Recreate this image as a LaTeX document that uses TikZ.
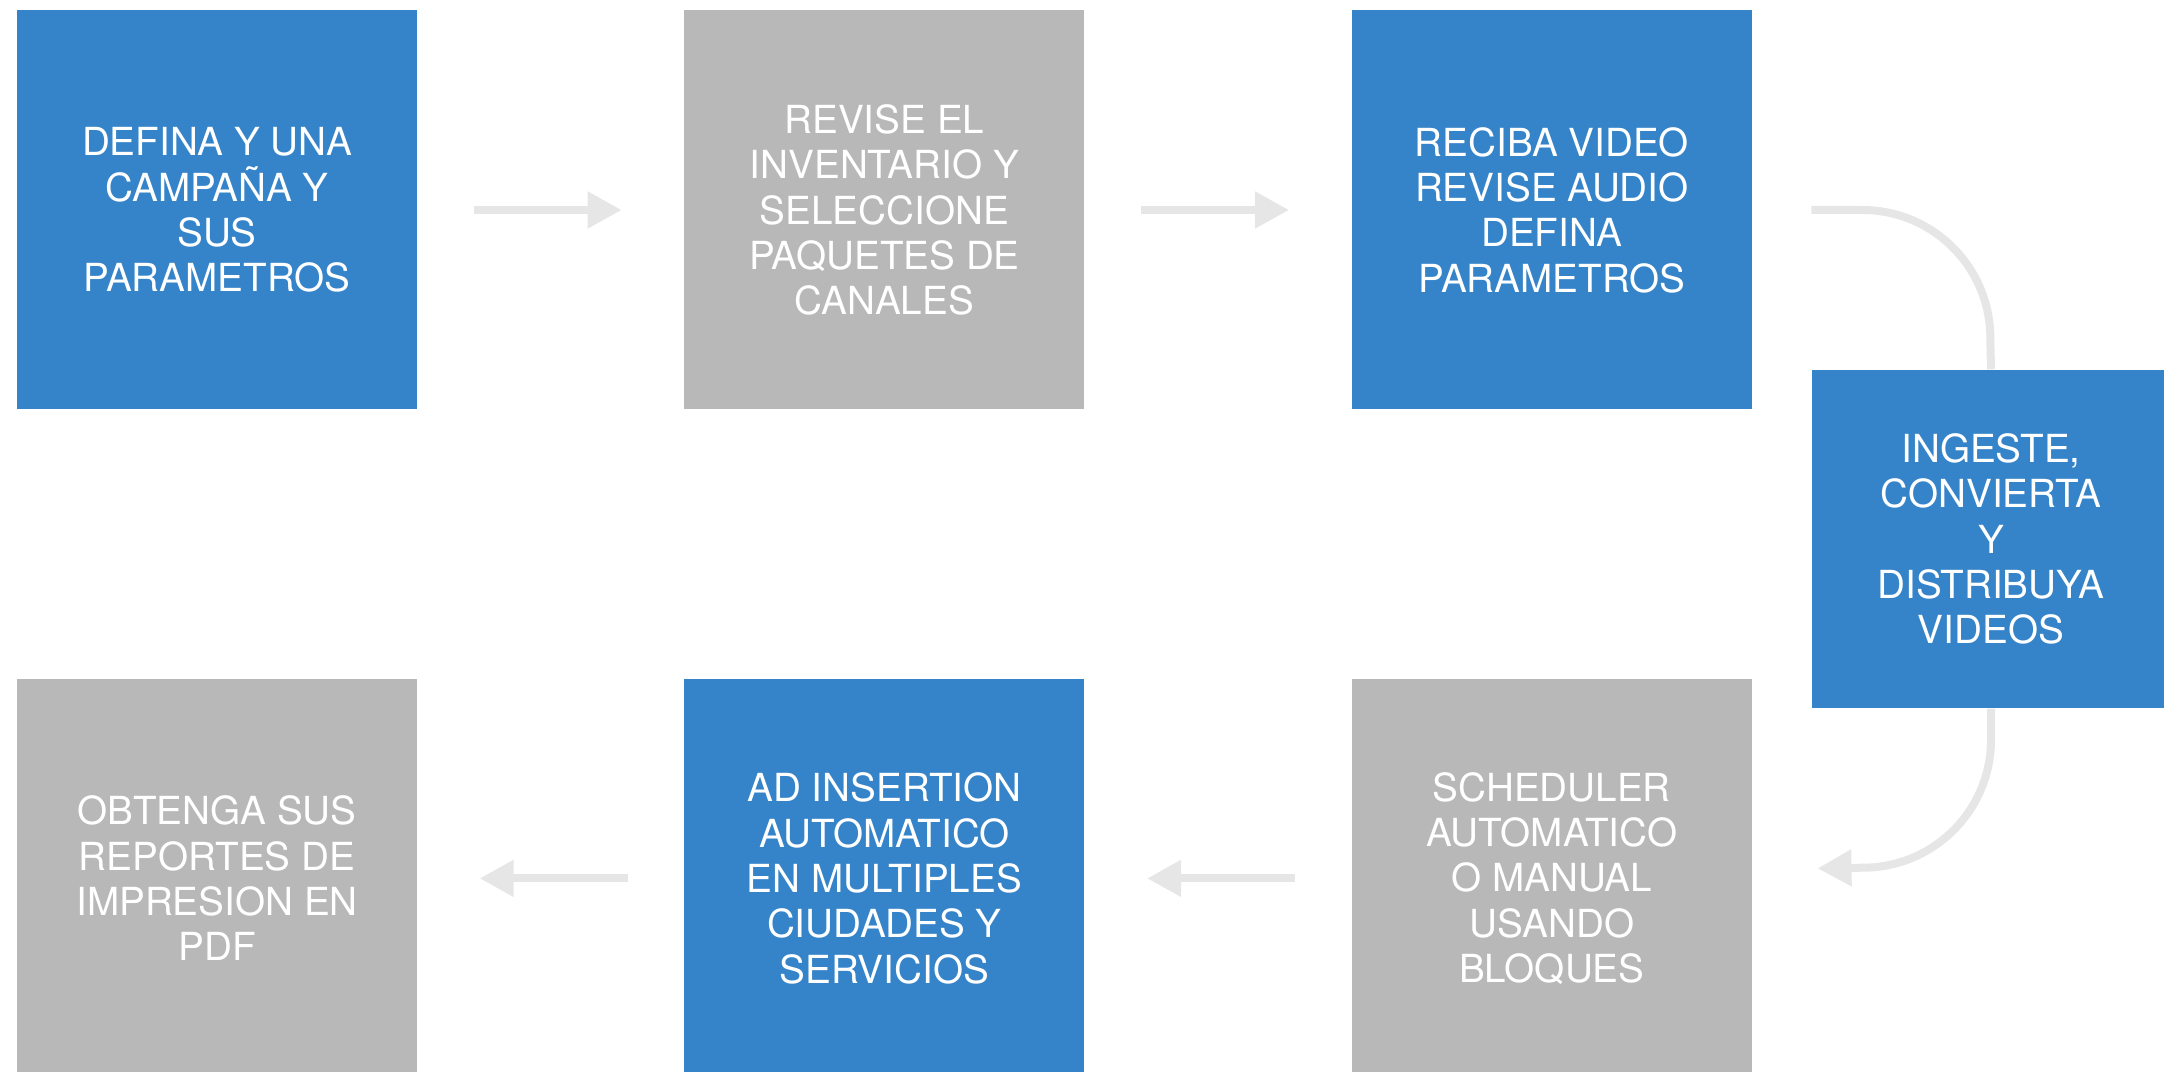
\documentclass[tikz,border=0pt]{standalone}
\usepackage{fontspec}
\setmainfont{TeX Gyre Heros}
\usetikzlibrary{arrows.meta,calc,positioning}
\definecolor{boxblue}{HTML}{3584C9}
\definecolor{boxgray}{HTML}{B8B8B8}
\definecolor{linegray}{HTML}{E6E6E6}

\begin{document}
\begin{tikzpicture}[node distance=2.66cm]
    \tikzstyle{box}=[rectangle, inner sep=0pt, minimum width=4cm, minimum height=3.99cm, text=white, align=center, font=\fontsize{11}{12.9}\selectfont]
    \tikzstyle{bluebox}=[box, fill=boxblue]
    \tikzstyle{graybox}=[box, fill=boxgray]
    \tikzstyle{flow}=[draw=linegray, line width=0.08cm, -{Triangle[length=0.34cm,width=0.35cm]}, shorten <=0.56cm, shorten >=0.62cm]

    \useasboundingbox (0,0) rectangle (21.64,-10.72);

    \node[bluebox]    (defina) at (2.17,-2.1) {DEFINA Y UNA\\CAMPAÑA Y\\SUS\\PARAMETROS};
    \node[graybox]    (revise) [right=of defina] {REVISE EL\\INVENTARIO Y\\SELECCIONE\\PAQUETES DE\\CANALES};
    \node[bluebox]    (reciba) [right=of revise] {RECIBA VIDEO\\REVISE AUDIO\\DEFINA\\PARAMETROS};
    \node[bluebox, minimum width=3.58cm, minimum height=3.38cm] (ingeste) at (19.91,-5.39) {INGESTE,\\CONVIERTA\\Y\\DISTRIBUYA\\VIDEOS};
    \node[graybox]    (scheduler) [below=2.68cm of reciba] {SCHEDULER\\AUTOMATICO\\O MANUAL\\USANDO\\BLOQUES};
    \node[bluebox]    (insertion) [left=of scheduler] {AD INSERTION\\AUTOMATICO\\EN MULTIPLES\\CIUDADES Y\\SERVICIOS};
    \node[graybox]    (reportes) [left=of insertion] {OBTENGA SUS\\REPORTES DE\\IMPRESION EN\\PDF};

    \coordinate (in) at (reciba.east -| ingeste.west);
    \coordinate (out) at ($(scheduler.east)+(0.65,0.1)$);

    \draw[flow] (defina) -- (revise);
    \draw[flow] (revise) -- (reciba);
    \draw[flow] (scheduler) -- (insertion);
    \draw[flow] (insertion) -- (reportes);

    % the bend round the right-hand box
    \draw[flow, -, shorten <=0pt, shorten >=0pt] (in) -- ++(0.51,0) arc[start angle=90, end angle=0, radius=1.28cm] -- (ingeste.north);
    \draw[flow, shorten <=0pt, shorten >=0pt] (ingeste.south) -- ++(0,-0.31) arc[start angle=0, end angle=-90, radius=1.28cm] -- (out);
\end{tikzpicture}
\end{document}
